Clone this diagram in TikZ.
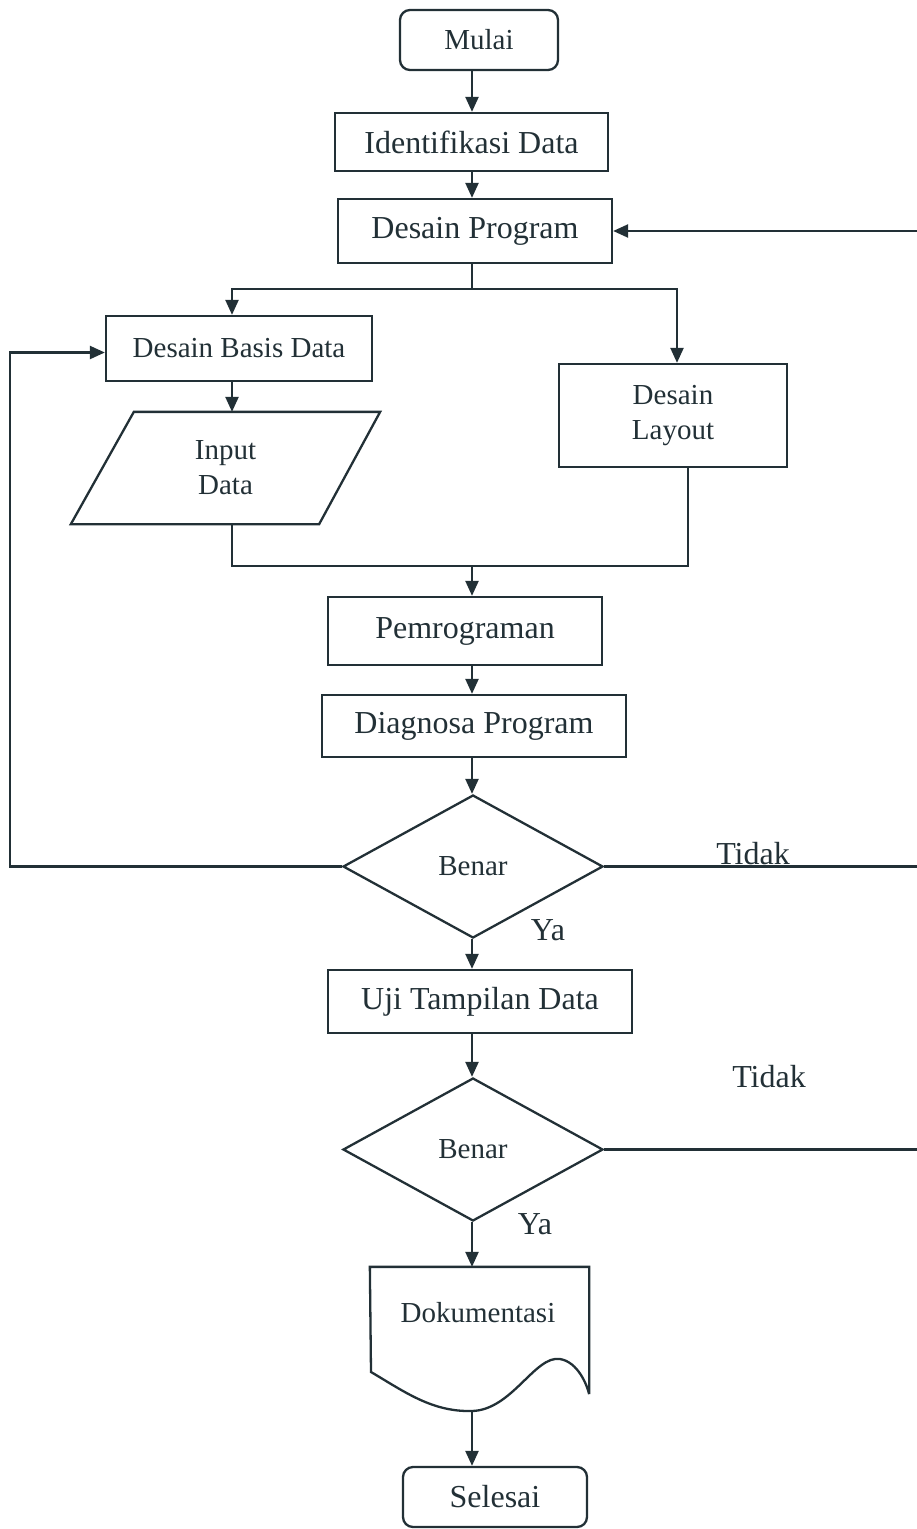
\documentclass[tikz,border=0pt]{standalone}
\usepackage{fontspec}
\setmainfont{Liberation Serif}
\usetikzlibrary{arrows.meta,shapes.geometric}
\definecolor{ink}{HTML}{223036}
\begin{document}
\begin{tikzpicture}[x=1pt,y=-1pt,color=ink,line width=2.3pt,
  flow/.style={-{Triangle[length=15pt,width=13pt]}},
  bigtext/.style={font=\fontsize{32}{38}\selectfont},
  smalltext/.style={font=\fontsize{29}{35}\selectfont},
  box/.style={draw,rectangle,inner sep=0pt,align=center},
  term/.style={box,rounded corners=10pt},
  decision/.style={draw,diamond,inner sep=0pt,minimum width=260pt,minimum height=143pt,smalltext},
  lbl/.style={inner sep=0pt,bigtext}]
\useasboundingbox (0,0) rectangle (917,1529);

% helper coordinates for the main spine and the loop rails
\coordinate (spine) at (472,0);
\coordinate (lx) at (10,0);
\coordinate (rx) at (919,0);
\coordinate (split) at (472,289);
\coordinate (jl) at (232,289);
\coordinate (jr) at (677,289);
\coordinate (merge) at (472,566);
\coordinate (mr) at (688,566);

% nodes
\node[term,smalltext,minimum width=158pt,minimum height=60pt] (mulai) at (479,40) {Mulai};
\node[box,bigtext,minimum width=273pt,minimum height=58pt] (ident) at (471.5,142) {Identifikasi Data};
\node[box,bigtext,minimum width=274pt,minimum height=64pt] (dp) at (475,231) {Desain Program};
\node[box,smalltext,minimum width=266pt,minimum height=65pt] (dbd) at (239,348.5) {Desain Basis Data};
\node[inner sep=0pt,minimum width=307pt,minimum height=110pt,align=center,smalltext] (inp) at (225.5,468) {Input\\Data};
\node[box,smalltext,minimum width=228pt,minimum height=103pt] (dl) at (673,415.5) {Desain\\Layout};
\node[box,bigtext,minimum width=274pt,minimum height=68pt] (pem) at (465,631) {Pemrograman};
\node[box,bigtext,minimum width=304pt,minimum height=62pt] (diag) at (474,726) {Diagnosa Program};
\node[decision] (ben1) at (473,866.5) {Benar};
\node[box,bigtext,minimum width=304pt,minimum height=63pt] (uji) at (480,1001.5) {Uji Tampilan Data};
\node[decision] (ben2) at (473,1149.5) {Benar};
\node[inner sep=0pt,minimum width=217pt,minimum height=125pt] (doc) at (479.5,1330.5) {};
\node[smalltext,inner sep=0pt] (doctext) at (478,1313) {Dokumentasi};
\coordinate (docb) at (472,1411);
\node[term,bigtext,minimum width=184pt,minimum height=60pt] (sel) at (495,1497) {Selesai};

% input/output parallelogram
\draw ([xshift=63pt]inp.north west) -- (inp.north east)
  -- ([xshift=-61pt]inp.south east) -- (inp.south west) -- cycle;

% document symbol outline
\draw (doc.south east) -- (doc.north east) -- (doc.north west) -- (371,1372)
  .. controls (405,1392) and (432,1412) .. (docb)
  .. controls (512,1410) and (535,1355) .. (560,1359)
  .. controls (578,1362) and (587,1385) .. (doc.south east);

% labels on the decision branches
\node[lbl] (t1) at (753,854) {Tidak};
\node[lbl] (y1) at (548,930) {Ya};
\node[lbl] (t2) at (769,1077) {Tidak};
\node[lbl] (y2) at (535,1224) {Ya};

% main flow
\draw[flow] (mulai.south -| spine) -- (ident.north -| spine);
\draw[flow] (ident.south -| spine) -- (dp.north -| spine);
\draw (dp.south -| spine) -- (split);
\draw[flow] (split) -- (jl) -- (jl |- dbd.north);
\draw[flow] (split) -- (jr) -- (jr |- dl.north);
\draw[flow] (jl |- dbd.south) -- (jl |- inp.north);
\draw (jl |- inp.south) -- (jl |- merge) -- (mr) -- (mr |- dl.south);
\draw[flow] (merge) -- (merge |- pem.north);
\draw[flow] (pem.south -| spine) -- (diag.north -| spine);
\draw[flow] (diag.south -| spine) -- (ben1.north -| spine);
\draw[flow] (ben1.south -| spine) -- (uji.north -| spine);
\draw[flow] (uji.south -| spine) -- (ben2.north -| spine);
\draw[flow] (ben2.south -| spine) -- (doc.north -| spine);
\draw[flow] (docb) -- (docb |- sel.north);

% loops back
\draw[flow] (ben1.west) -- (ben1.west -| lx) |- ([yshift=-4pt]dbd.west);
\draw (ben1.east) -- (ben1.east -| rx);
\draw[flow] (ben2.east) -- (ben2.east -| rx) -- (dp.east -| rx) -- (dp.east);
\end{tikzpicture}
\end{document}
